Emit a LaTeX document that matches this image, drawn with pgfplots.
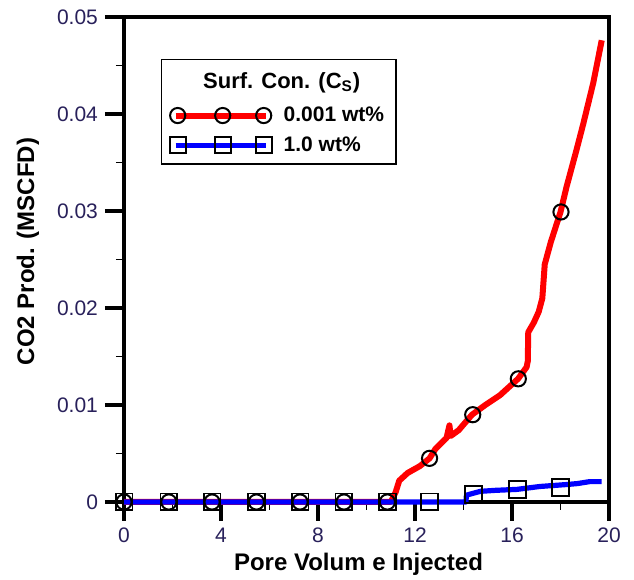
\documentclass[border=0pt]{standalone}
\usepackage{pgfplots}
\pgfplotsset{compat=1.18}
\usepackage{fontspec}
\setmainfont{Liberation Sans}
\definecolor{ticknavy}{RGB}{40,32,90}
\definecolor{myred}{RGB}{255,0,0}
\definecolor{myblue}{RGB}{0,0,255}
\begin{document}
\begin{tikzpicture}
\begin{axis}[
  name=ax,
  scale only axis, width=242.5pt, height=242.5pt,
  xmin=0, xmax=20, ymin=0, ymax=0.05,
  xtick={0,4,8,12,16,20}, minor xtick={2,6,10,14,18},
  ytick={0,0.01,0.02,0.03,0.04,0.05},
  minor ytick={0.005,0.015,0.025,0.035,0.045},
  tick pos=left, tick align=outside,
  major tick length=9.5pt, minor tick length=4pt,
  every major tick/.append style={line width=2pt, black},
  every minor tick/.append style={line width=0.7pt, black},
  axis line style={line width=1.75pt},
  tick label style={font=\fontsize{10.5}{12}\selectfont, text=ticknavy},
  /pgf/number format/assume math mode=true,
  scaled y ticks=false,
  yticklabel style={/pgf/number format/fixed, /pgf/number format/precision=2},
  xlabel={Pore Volum e Injected},
  ylabel={CO2 Prod. (MSCFD)},
  label style={font=\bfseries\fontsize{12}{14}\selectfont},
  xlabel style={at={(axis description cs:0.4835,-0.1278)}, anchor=center},
  ylabel style={at={(axis description cs:-0.198,0.5165)}, anchor=center},
  legend style={at={(axis description cs:0.0763,0.9134)}, anchor=north west,
    draw=black, line width=0.7pt, font=\bfseries\fontsize{10.5}{12.5}\selectfont,
    inner xsep=4pt, inner ysep=3pt, row sep=2pt},
  legend cell align=left,
  clip=false,
]
% data lines (forget plot; legend built from legend images)
\addplot[myred, line width=3pt, line join=round, forget plot] coordinates {
 (0,0) (11.0,0) (11.2,0.0010) (11.35,0.0022) (11.7,0.0030) (12.2,0.0037)
 (12.6,0.0045) (12.85,0.0055) (13.3,0.0066) (13.42,0.0079) (13.47,0.0068)
 (13.8,0.0074) (14.35,0.0090) (14.9,0.0100) (15.5,0.0110) (16.25,0.0127)
 (16.6,0.0139) (16.65,0.0145) (16.67,0.0175) (16.9,0.0185) (17.1,0.0196)
 (17.25,0.0210) (17.35,0.0245) (17.6,0.0268) (18.0,0.0299) (18.25,0.0325)
 (18.66,0.0363) (18.94,0.0390) (19.35,0.0432) (19.7,0.0476)};
\addplot[myblue, line width=2.6pt, line join=round, forget plot] coordinates {
 (0,0) (14.1,0) (14.12,0.0007) (14.4,0.0009) (14.7,0.0011) (15.3,0.0012)
 (16.2,0.0013) (17.15,0.0016) (18.25,0.0018) (18.7,0.0019) (19.2,0.0021) (19.7,0.0021)};
% markers
\addplot[only marks, mark=square, mark size=4.2pt, mark options={draw=black, line width=0.9pt}, forget plot] coordinates {
 (0,0) (1.85,0) (3.63,0) (5.46,0) (7.26,0) (9.07,0) (10.86,0)
 (12.6,0) (14.42,0.0008) (16.23,0.0013) (18.0,0.0015)};
\addplot[only marks, mark=o, mark size=3.8pt, mark options={draw=black, line width=1pt}, forget plot] coordinates {
 (0,0) (1.85,0) (3.63,0) (5.46,0) (7.26,0) (9.07,0) (10.86,0)
 (12.6,0.0045) (14.38,0.0090) (16.26,0.0127) (18.02,0.0299)};
% legend
\addlegendimage{legend image code/.code={
  \node[overlay, anchor=center, font=\bfseries\fontsize{11}{13}\selectfont] at (55pt,0pt) {Surf. Con. (C\textsubscript{S})};}}
\addlegendentry{\rule{0pt}{11pt}}
\addlegendimage{legend image code/.code={
  \draw[myred, line width=3pt] (2pt,0pt) -- (47pt,0pt);
  \draw[only marks, mark=o, mark size=3.8pt, mark options={draw=black, line width=1pt}] plot coordinates {(3pt,0pt) (25.5pt,0pt) (46pt,0pt)};}}
\addlegendentry{\hspace{4pt}0.001 wt\%}
\addlegendimage{legend image code/.code={
  \draw[myblue, line width=2.6pt] (2pt,0pt) -- (47pt,0pt);
  \draw[only marks, mark=square, mark size=4pt, mark options={draw=black, line width=0.9pt}] plot coordinates {(3pt,0pt) (25.5pt,0pt) (46pt,0pt)};}}
\addlegendentry{\hspace{4pt}1.0 wt\%}
\end{axis}
\pgfresetboundingbox
\path ([shift={(-62pt,-39pt)}]ax.south west) rectangle ([shift={(12.5pt,8.5pt)}]ax.north east);
\end{tikzpicture}
\end{document}
